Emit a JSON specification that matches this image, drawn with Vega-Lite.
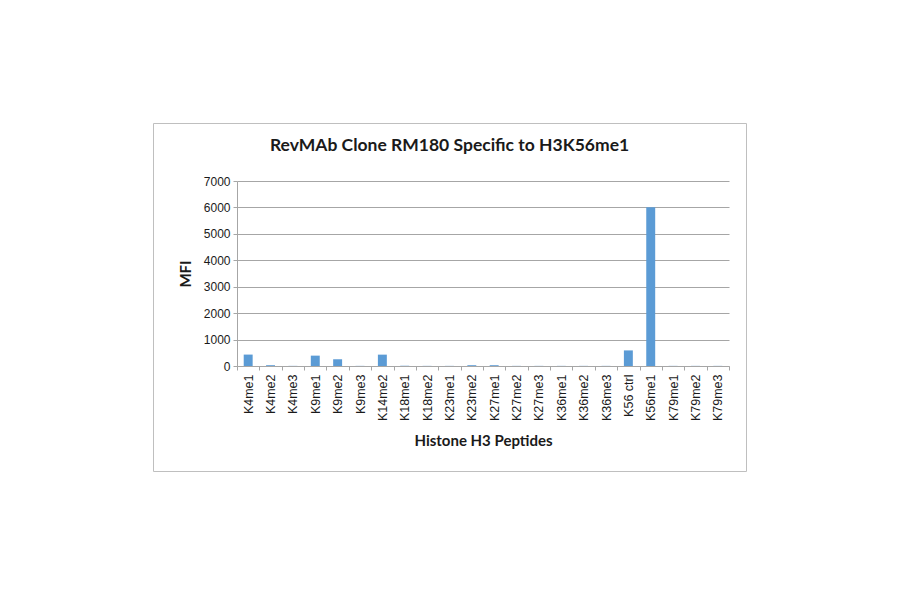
{
  "$schema": "https://vega.github.io/schema/vega-lite/v6.json",
  "description": "RevMAb Clone RM180 specificity across histone H3 peptides",
  "autosize": {"type": "none"},
  "padding": {"left": 153, "top": 123, "right": 154, "bottom": 123},
  "width": 593,
  "height": 348,
  "background": "white",
  "config": {
    "view": {"stroke": "#bfbfbf", "strokeWidth": 1},
    "font": "Liberation Sans"
  },
  "title": {
    "text": "RevMAb Clone RM180 Specific to H3K56me1",
    "font": "Lato",
    "fontSize": 17.5,
    "fontWeight": "bold",
    "color": "#1a1a1a",
    "anchor": "middle",
    "offset": 0,
    "dy": 31
  },
  "data": {
    "values": [
      {"peptide": "K4me1", "mfi": 432},
      {"peptide": "K4me2", "mfi": 30},
      {"peptide": "K4me3", "mfi": 5},
      {"peptide": "K9me1", "mfi": 392},
      {"peptide": "K9me2", "mfi": 255},
      {"peptide": "K9me3", "mfi": 5},
      {"peptide": "K14me2", "mfi": 430},
      {"peptide": "K18me1", "mfi": 5},
      {"peptide": "K18me2", "mfi": 5},
      {"peptide": "K23me1", "mfi": 5},
      {"peptide": "K23me2", "mfi": 30},
      {"peptide": "K27me1", "mfi": 30},
      {"peptide": "K27me2", "mfi": 5},
      {"peptide": "K27me3", "mfi": 5},
      {"peptide": "K36me1", "mfi": 5},
      {"peptide": "K36me2", "mfi": 5},
      {"peptide": "K36me3", "mfi": 5},
      {"peptide": "K56 ctrl", "mfi": 590},
      {"peptide": "K56me1", "mfi": 6010},
      {"peptide": "K79me1", "mfi": 5},
      {"peptide": "K79me2", "mfi": 5},
      {"peptide": "K79me3", "mfi": 5}
    ]
  },
  "mark": {"type": "bar", "color": "#5b9bd5", "width": {"band": 0.4}},
  "encoding": {
    "x": {
      "field": "peptide",
      "type": "nominal",
      "sort": null,
      "scale": {"range": [84, 576], "paddingInner": 0, "paddingOuter": 0},
      "axis": {
        "title": "Histone H3 Peptides",
        "titleFont": "Lato",
        "titleFontSize": 15,
        "titleFontWeight": "bold",
        "titleColor": "#1a1a1a",
        "titlePadding": 13,
        "offset": -105,
        "labelAngle": -90,
        "labelAlign": "right",
        "labelBaseline": "middle",
        "labelFontSize": 12.5,
        "labelColor": "#1a1a1a",
        "labelPadding": 4,
        "tickBand": "extent",
        "tickColor": "#a6a6a6",
        "tickSize": 4,
        "domainColor": "#a6a6a6",
        "grid": false
      }
    },
    "y": {
      "field": "mfi",
      "type": "quantitative",
      "scale": {"domain": [0, 7000], "range": [243, 58], "nice": false},
      "axis": {
        "title": "MFI",
        "titleFont": "Lato",
        "titleFontSize": 15,
        "titleFontWeight": "bold",
        "titleColor": "#1a1a1a",
        "titlePadding": 10,
        "offset": -84,
        "values": [0, 1000, 2000, 3000, 4000, 5000, 6000, 7000],
        "format": "d",
        "labelFontSize": 12,
        "labelColor": "#1a1a1a",
        "labelPadding": 3,
        "tickColor": "#a6a6a6",
        "tickSize": 4,
        "domainColor": "#a6a6a6",
        "grid": true,
        "gridColor": "#a6a6a6"
      }
    }
  }
}
